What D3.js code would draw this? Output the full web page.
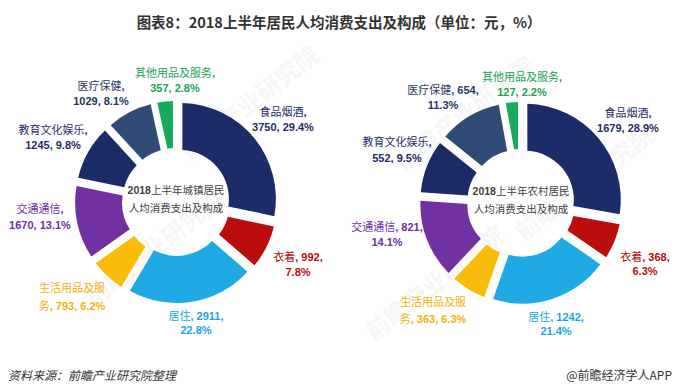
<!DOCTYPE html>
<html><head><meta charset="utf-8">
<script src="https://cdn.jsdelivr.net/npm/d3@7"></script>
<style>
html,body{margin:0;padding:0;background:#fff;}
svg{display:block;}
</style></head>
<body>
<svg id="chart" width="680" height="390"></svg>
<script>
// ---- data ----
const categories = ["食品烟酒","衣着","居住","生活用品及服务","交通通信","教育文化娱乐","医疗保健","其他用品及服务"];
const urbanValues = [3750, 992, 2911, 793, 1670, 1245, 1029, 357];
const urbanPct    = [29.4, 7.8, 22.8, 6.2, 13.1, 9.8, 8.1, 2.8];
const ruralValues = [1679, 368, 1242, 363, 821, 552, 654, 127];
const ruralPct    = [28.9, 6.3, 21.4, 6.3, 14.1, 9.5, 11.3, 2.2];
const titleText = "图表8：2018上半年居民人均消费支出及构成（单位：元，%）";
const urbanCenter = ["2018", "上半年城镇居民", "人均消费支出及构成"];
const ruralCenter = ["2018", "上半年农村居民", "人均消费支出及构成"];

// ---- styles / layout ----
const sliceColors = ["#1b2c69","#bb0d0d","#1faae6","#f9bc0b","#7131a0","#1a2b66","#304c76","#17aa5c"];
const labelColors = ["#1e2d62","#b30f0f","#1ea5df","#efb40a","#7030a0","#1e2d62","#26395f","#17a257"];
// label layout: [x, y1, y2, split(index of line break in full label)]
const urbanLabelLayout = [
  [283,112,127,"食品烟酒,".length],
  [298,257,272,"衣着, 992,".length],
  [196,316,330,"居住, 2911,".length],
  [72,288,306,"生活用品及服".length],
  [40,209,225,"交通通信,".length],
  [53,130,145,"教育文化娱乐,".length],
  [101,86,101,"医疗保健,".length],
  [175,73,88,"其他用品及服务,".length]
];
const ruralLabelLayout = [
  [628,113,128,"食品烟酒,".length],
  [645,257,271,"衣着, 368,".length],
  [556,317,331,"居住, 1242,".length],
  [433,302,319,"生活用品及服".length],
  [387,227,242,"交通通信, 821,".length],
  [397,142,158,"教育文化娱乐,".length],
  [443,90,105,"医疗保健, 654,".length],
  [522,77,92,"其他用品及服务,".length]
];

const svg = d3.select("#chart");
const FONT = "'Liberation Sans', Arial, 'Noto Sans CJK SC', sans-serif";

// faint watermarks
const wm = [[160,255],[255,110],[470,120],[440,290],[590,190]];
svg.append("g").selectAll("text").data(wm).join("text")
  .attr("transform", d => `translate(${d[0]},${d[1]}) rotate(-38)`)
  .attr("text-anchor","middle")
  .attr("font-family","'Noto Sans CJK SC', sans-serif")
  .attr("font-size",24).attr("font-weight","bold")
  .attr("fill","#000").attr("opacity",0.03)
  .text("前瞻产业研究院");

// title
svg.append("text")
  .attr("x", 339).attr("y", 28)
  .attr("text-anchor","middle")
  .attr("font-family","'Noto Sans CJK SC', sans-serif")
  .attr("font-size", 14.5).attr("font-weight","bold")
  .attr("fill","#333")
  .text(titleText);

const R = 96, r = 49, explode = 5, gap = 5;
const pie = d3.pie().sort(null).value(d => d).padAngle(gap / R);
const arc = d3.arc().innerRadius(r).outerRadius(R).padRadius(R);

function labelText(g, txt, x, y, color) {
  const t = g.append("text").attr("x", x).attr("y", y)
    .attr("text-anchor","middle").attr("font-family",FONT)
    .attr("font-size",11).attr("fill",color);
  const parts = txt.split(/([\u4e00-\u9fff]+)/).filter(s => s.length);
  parts.forEach(p => {
    const cjk = /[\u4e00-\u9fff]/.test(p);
    t.append("tspan").attr("font-weight", cjk ? "normal" : "bold").text(p);
  });
}

function donut(cx, cy, values, pcts, layout, centerLines) {
  const g = svg.append("g");
  values.forEach((v, i) => {
    const full = `${categories[i]}, ${v}, ${pcts[i]}%`;
    const L = layout[i];
    const l1 = full.slice(0, L[3]).trim();
    const l2 = full.slice(L[3]).trim();
    labelText(g, l1, L[0], L[1] + 4, labelColors[i]);
    labelText(g, l2, L[0], L[2] + 4, labelColors[i]);
  });
  const arcs = pie(values);
  const sg = g.append("g").attr("transform", `translate(${cx},${cy})`);
  sg.selectAll("path").data(arcs).join("path")
    .attr("d", arc)
    .attr("fill", (d, i) => sliceColors[i])
    .attr("transform", d => {
      const a = (d.startAngle + d.endAngle) / 2;
      return `translate(${explode * Math.sin(a)},${-explode * Math.cos(a)})`;
    });
  const t1 = g.append("text").attr("x", cx).attr("y", cy - 8)
    .attr("text-anchor","middle").attr("font-family",FONT)
    .attr("font-size",10.5).attr("fill","#404040");
  t1.append("tspan").attr("font-weight","bold").text(centerLines[0]);
  t1.append("tspan").text(centerLines[1]);
  g.append("text").attr("x", cx).attr("y", cy + 10)
    .attr("text-anchor","middle").attr("font-family",FONT)
    .attr("font-size",10.5).attr("fill","#404040")
    .text(centerLines[2]);
}

donut(176, 202, urbanValues, urbanPct, urbanLabelLayout, urbanCenter);
donut(521, 203, ruralValues, ruralPct, ruralLabelLayout, ruralCenter);

// footer
svg.append("text").attr("x", 8).attr("y", 380)
  .attr("font-family","'Noto Sans CJK SC', sans-serif").attr("font-size",12)
  .attr("font-style","italic").attr("fill","#333")
  .text("资料来源：前瞻产业研究院整理");
svg.append("text").attr("x", 672).attr("y", 380).attr("text-anchor","end")
  .attr("font-family","'Noto Sans CJK SC', sans-serif").attr("font-size",12)
  .attr("fill","#333")
  .text("@前瞻经济学人APP");
</script>
</body></html>
